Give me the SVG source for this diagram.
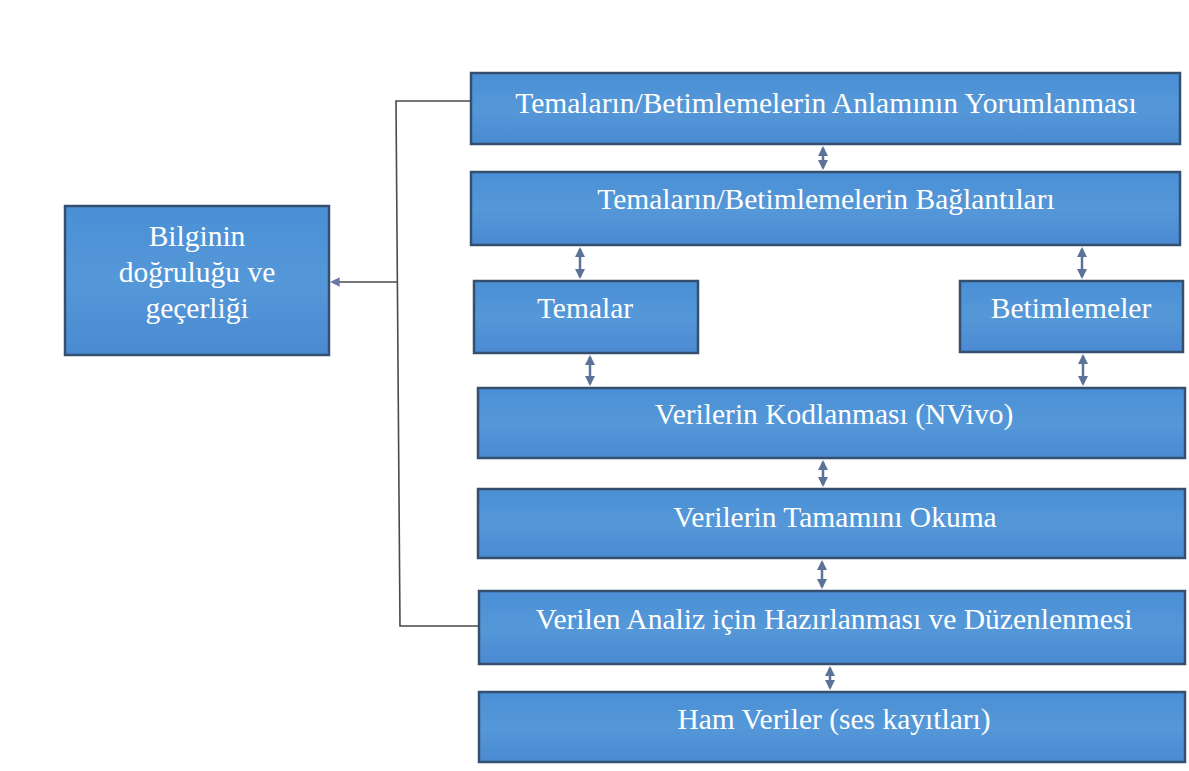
<svg xmlns="http://www.w3.org/2000/svg" width="1189" height="771" viewBox="0 0 1189 771">
<style>
.box{fill:url(#g);stroke:#35506e;stroke-width:2.5}
.t{font-family:"Liberation Serif","Times New Roman",serif;font-size:29.5px;fill:#ffffff;text-anchor:middle}
.ln{fill:none;stroke:#4a4a4a;stroke-width:1.6}
.ar{stroke:#5c7296;stroke-width:2.5;fill:none;marker-start:url(#ah);marker-end:url(#ah)}
</style>
<defs>
<linearGradient id="g" x1="0" y1="0" x2="0" y2="1">
<stop offset="0" stop-color="#4a8fd6"/>
<stop offset="0.5" stop-color="#5598d8"/>
<stop offset="1" stop-color="#4a8ad2"/>
</linearGradient>
<marker id="ah" viewBox="0 0 10 10" refX="8" refY="5" markerWidth="4" markerHeight="4" orient="auto-start-reverse">
<path d="M0,0 L10,5 L0,10 z" fill="#5c7296"/>
</marker>
<marker id="al" viewBox="0 0 10 10" refX="8" refY="5" markerWidth="6" markerHeight="6" orient="auto">
<path d="M0,0 L10,5 L0,10 z" fill="#6a78a8"/>
</marker>
</defs>
<rect width="1189" height="771" fill="#ffffff"/>
<g id="connectors">
<path class="ln" d="M471,101 L396,101 L400,626 L479,626"/>
<path class="ln" d="M397,282 L332,282" marker-end="url(#al)"/>
<line class="ar" x1="823" y1="148" x2="823" y2="168"/>
<line class="ar" x1="580" y1="249" x2="580" y2="277"/>
<line class="ar" x1="1082" y1="249" x2="1082" y2="277"/>
<line class="ar" x1="590" y1="357" x2="590" y2="384"/>
<line class="ar" x1="1083" y1="356" x2="1083" y2="384"/>
<line class="ar" x1="823" y1="462" x2="823" y2="485"/>
<line class="ar" x1="822" y1="562" x2="822" y2="587"/>
<line class="ar" x1="830" y1="668" x2="830" y2="688"/>
</g>
<g id="n-bilgi">
<rect class="box" x="65" y="206" width="264" height="149"/>
<text class="t" x="197" y="246">Bilginin</text>
<text class="t" x="197" y="282">doğruluğu ve</text>
<text class="t" x="197" y="318">geçerliği</text>
</g>
<g id="n-yorum">
<rect class="box" x="471" y="73" width="709" height="71"/>
<text class="t" x="826" y="113">Temaların/Betimlemelerin Anlamının Yorumlanması</text>
</g>
<g id="n-baglanti">
<rect class="box" x="471" y="172" width="709" height="73"/>
<text class="t" x="826" y="209">Temaların/Betimlemelerin Bağlantıları</text>
</g>
<g id="n-temalar">
<rect class="box" x="474" y="281" width="224" height="72"/>
<text class="t" x="585" y="318">Temalar</text>
</g>
<g id="n-betim">
<rect class="box" x="960" y="281" width="223" height="71"/>
<text class="t" x="1071" y="318">Betimlemeler</text>
</g>
<g id="n-kodlama">
<rect class="box" x="478" y="388" width="707" height="70"/>
<text class="t" x="834" y="424">Verilerin Kodlanması (NVivo)</text>
</g>
<g id="n-okuma">
<rect class="box" x="478" y="489" width="707" height="69"/>
<text class="t" x="835" y="527">Verilerin Tamamını Okuma</text>
</g>
<g id="n-hazirlama">
<rect class="box" x="479" y="591" width="706" height="73"/>
<text class="t" x="834" y="629">Verilen Analiz için Hazırlanması ve Düzenlenmesi</text>
</g>
<g id="n-ham">
<rect class="box" x="479" y="692" width="706" height="70"/>
<text class="t" x="834" y="729">Ham Veriler (ses kayıtları)</text>
</g>
</svg>
